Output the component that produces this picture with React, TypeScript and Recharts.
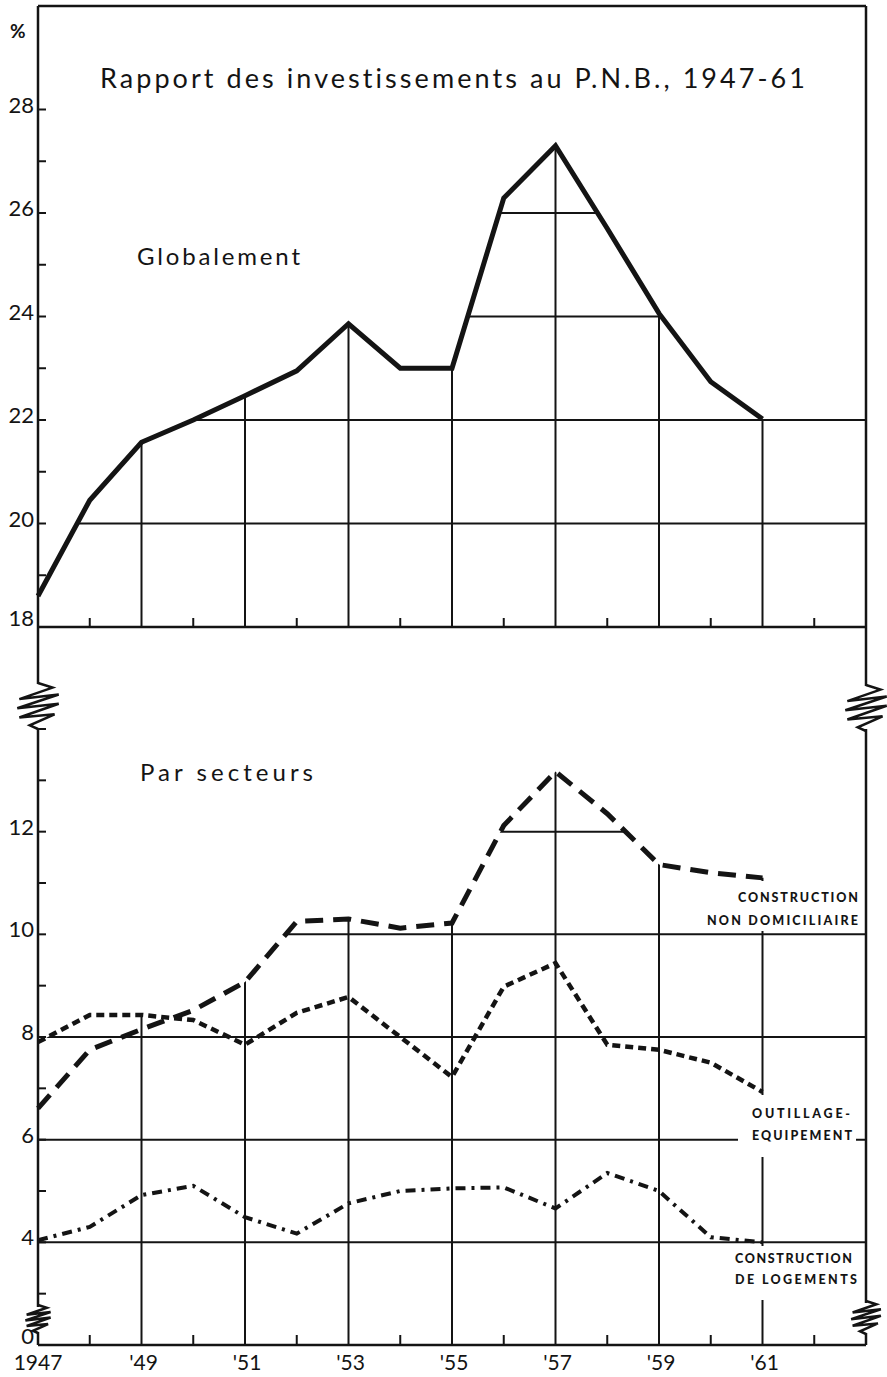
import React from "react";
import {
  ComposedChart,
  Line,
  Area,
  XAxis,
  YAxis,
  ReferenceLine,
} from "recharts";

// ---------------------------------------------------------------------------
// Data (% of GNP)
// ---------------------------------------------------------------------------

const years = [1947, 1948, 1949, 1950, 1951, 1952, 1953, 1954, 1955, 1956, 1957, 1958, 1959, 1960, 1961];
const globalement = [18.6, 20.45, 21.57, 22.0, 22.47, 22.95, 23.86, 23.0, 23.0, 26.29, 27.3, 25.7, 24.06, 22.74, 22.02];
const nonDomiciliaire = [6.61, 7.75, 8.15, 8.52, 9.07, 10.25, 10.3, 10.12, 10.22, 12.12, 13.17, 12.35, 11.36, 11.2, 11.1];
const outillage = [7.9, 8.43, 8.43, 8.33, 7.85, 8.47, 8.78, 8.0, 7.22, 8.98, 9.44, 7.85, 7.75, 7.5, 6.93];
const logements = [4.04, 4.3, 4.92, 5.1, 4.49, 4.17, 4.76, 5.0, 5.05, 5.07, 4.66, 5.35, 5.0, 4.1, 4.0];

// axis runs two empty years past the last point
const extraYears = [1962, 1963];
const labelledYears = [1949, 1951, 1953, 1955, 1957, 1959, 1961];
const minorYears = [1948, 1950, 1952, 1954, 1956, 1958, 1960, 1962];
const allTickYears = [1947, 1948, 1949, 1950, 1951, 1952, 1953, 1954, 1955, 1956, 1957, 1958, 1959, 1960, 1961, 1962];

const topTicks = [18, 19, 20, 21, 22, 23, 24, 25, 26, 27, 28];
const topGrid = [20, 22, 24, 26, 28];
// lower panel is broken: the bottom line (2) is labelled 0
const bottomTicks = [2, 3, 4, 5, 6, 7, 8, 9, 10, 11, 12, 13, 14];
const bottomGrid = [4, 6, 8, 10, 12];

// ---------------------------------------------------------------------------
// Layout
// ---------------------------------------------------------------------------

const INK = "#141414";
const FONT = "Lato, 'Open Sans', sans-serif";
const PLOT_L = 38;
const PLOT_R = 866;
const TOP_H = 640;
const TOP_PLOT_BOTTOM = 627;
const BOT_Y = 700;
const BOT_H = 677;
const BOT_PLOT_BOTTOM = 645; // local to lower chart

const lastIdx = years.length - 1;

const topData = [...years, ...extraYears].map((year, i) => ({
  year,
  value: i <= lastIdx ? globalement[i] : null,
  mask: i <= lastIdx ? globalement[i] : globalement[lastIdx],
}));

const bottomData = [...years, ...extraYears].map((year, i) => ({
  year,
  nonDom: i <= lastIdx ? nonDomiciliaire[i] : null,
  outil: i <= lastIdx ? outillage[i] : null,
  logem: i <= lastIdx ? logements[i] : null,
  mask:
    i <= lastIdx
      ? Math.max(nonDomiciliaire[i], outillage[i], logements[i])
      : nonDomiciliaire[lastIdx],
}));

// ---------------------------------------------------------------------------
// Ticks
// ---------------------------------------------------------------------------

function leftTick(labelFor: (v: number) => string, corner: number) {
  return (props: any) => {
    const { y, payload } = props;
    const v = payload.value;
    const label = labelFor(v);
    return (
      <g>
        {v !== corner && (
          <line x1={PLOT_L} x2={PLOT_L + 8} y1={y} y2={y} stroke={INK} strokeWidth={2} />
        )}
        {label && (
          <text
            x={PLOT_L - 4}
            y={v === corner ? y - 1 : y + 3}
            textAnchor="end"
            fontSize={22}
            fontFamily={FONT}
            fill={INK}
          >
            {label}
          </text>
        )}
      </g>
    );
  };
}

function rightTick(corner: number) {
  return (props: any) => {
    const { y, payload } = props;
    if (payload.value === corner) return <g />;
    return <line x1={PLOT_R - 8} x2={PLOT_R} y1={y} y2={y} stroke={INK} strokeWidth={2} />;
  };
}

const topXTick = (props: any) => {
  const { x } = props;
  return <line x1={x} x2={x} y1={TOP_PLOT_BOTTOM} y2={TOP_PLOT_BOTTOM - 9} stroke={INK} strokeWidth={2} />;
};

const bottomXTick = (props: any) => {
  const { x, payload } = props;
  const year = payload.value as number;
  if (year % 2 === 0) {
    return <line x1={x} x2={x} y1={BOT_PLOT_BOTTOM} y2={BOT_PLOT_BOTTOM - 10} stroke={INK} strokeWidth={2} />;
  }
  const label = year === 1947 ? "1947" : "'" + String(year).slice(2);
  return (
    <text x={x + (year === 1947 ? 0 : 2)} y={BOT_PLOT_BOTTOM + 25} textAnchor="middle" fontSize={21} fontFamily={FONT} fill={INK}>
      {label}
    </text>
  );
};

const topLabel = (v: number) => (v % 2 === 0 ? String(v) : "");
const bottomLabel = (v: number) => (v === 2 ? "0" : v % 2 === 0 && v < 14 ? String(v) : "");

// ---------------------------------------------------------------------------
// Axis break squiggle
// ---------------------------------------------------------------------------

function squiggle(cx: number, top: number, h: number) {
  const pts = [
    [0, 0], [0.35, 0.1], [-0.45, 0.35], [0.5, 0.25], [-0.5, 0.55],
    [0.5, 0.45], [-0.45, 0.75], [0.4, 0.68], [-0.2, 0.92], [0, 1],
  ];
  const w = h * 0.9;
  return pts.map(([dx, dy], i) => `${i === 0 ? "M" : "L"}${cx + dx * w},${top + dy * h}`).join(" ");
}

// ---------------------------------------------------------------------------
// Component
// ---------------------------------------------------------------------------

const gridLine = { stroke: INK, strokeWidth: 2 };
const noLig = { fontVariantLigatures: "none" as const };

export default function App() {
  return (
    <div style={{ position: "relative", width: 887, height: 1377, background: "#fff" }}>
      <style>{"body{margin:0;background:#fff}"}</style>

      {/* upper panel: total */}
      <div style={{ position: "absolute", left: 0, top: 0 }}>
        <ComposedChart width={887} height={TOP_H} data={topData} margin={{ top: 6, right: 20, bottom: 12, left: 0 }}>
          {topGrid.map((v) => (
            <ReferenceLine key={"h" + v} y={v} yAxisId="l" {...gridLine} zIndex={50} />
          ))}
          {labelledYears.map((yr) => (
            <ReferenceLine key={"v" + yr} x={yr} yAxisId="l" {...gridLine} zIndex={50} />
          ))}
          <Area
            yAxisId="l"
            type="linear"
            dataKey="mask"
            baseValue={30}
            fill="#fff"
            fillOpacity={1}
            stroke="none"
            dot={false}
            activeDot={false}
            isAnimationActive={false}
            zIndex={100}
          />
          <Line
            yAxisId="l"
            type="linear"
            dataKey="value"
            stroke={INK}
            strokeWidth={5}
            dot={false}
            activeDot={false}
            isAnimationActive={false}
            zIndex={400}
          />
          <ReferenceLine y={30} yAxisId="l" stroke={INK} strokeWidth={2.5} zIndex={450} />
          <XAxis
            dataKey="year"
            type="number"
            domain={[1947, 1963]}
            ticks={minorYears}
            interval={0}
            height={1}
            tickLine={false}
            tick={topXTick}
            axisLine={{ stroke: INK, strokeWidth: 2.5 }}
          />
          <YAxis
            yAxisId="l"
            type="number"
            domain={[18, 30]}
            ticks={topTicks}
            interval={0}
            width={38}
            tickLine={false}
            tick={leftTick(topLabel, 18)}
            axisLine={{ stroke: INK, strokeWidth: 2.5 }}
          />
          <YAxis
            yAxisId="r"
            orientation="right"
            type="number"
            domain={[18, 30]}
            ticks={topTicks}
            interval={0}
            width={1}
            tickLine={false}
            tick={rightTick(18)}
            axisLine={{ stroke: INK, strokeWidth: 2.5 }}
          />
        </ComposedChart>
      </div>

      {/* lower panel: by sector */}
      <div style={{ position: "absolute", left: 0, top: BOT_Y }}>
        <ComposedChart width={887} height={BOT_H} data={bottomData} margin={{ top: 29, right: 20, bottom: 31, left: 0 }}>
          {bottomGrid.map((v) => (
            <ReferenceLine key={"h" + v} y={v} yAxisId="l" {...gridLine} zIndex={50} />
          ))}
          {labelledYears.map((yr) => (
            <ReferenceLine key={"v" + yr} x={yr} yAxisId="l" {...gridLine} zIndex={50} />
          ))}
          <Area
            yAxisId="l"
            type="linear"
            dataKey="mask"
            baseValue={14}
            fill="#fff"
            fillOpacity={1}
            stroke="none"
            dot={false}
            activeDot={false}
            isAnimationActive={false}
            zIndex={100}
          />
          <Line
            yAxisId="l"
            type="linear"
            dataKey="nonDom"
            stroke={INK}
            strokeWidth={5}
            strokeDasharray="18 10"
            dot={false}
            activeDot={false}
            isAnimationActive={false}
            zIndex={400}
          />
          <Line
            yAxisId="l"
            type="linear"
            dataKey="outil"
            stroke={INK}
            strokeWidth={4.5}
            strokeDasharray="8 5"
            dot={false}
            activeDot={false}
            isAnimationActive={false}
            zIndex={400}
          />
          <Line
            yAxisId="l"
            type="linear"
            dataKey="logem"
            stroke={INK}
            strokeWidth={4}
            strokeDasharray="10 6 3 6"
            dot={false}
            activeDot={false}
            isAnimationActive={false}
            zIndex={400}
          />
          <XAxis
            dataKey="year"
            type="number"
            domain={[1947, 1963]}
            ticks={allTickYears}
            interval={0}
            height={1}
            tickLine={false}
            tick={bottomXTick}
            axisLine={{ stroke: INK, strokeWidth: 2.5 }}
          />
          <YAxis
            yAxisId="l"
            type="number"
            domain={[2, 14]}
            ticks={bottomTicks}
            interval={0}
            width={38}
            tickLine={false}
            tick={leftTick(bottomLabel, 2)}
            axisLine={{ stroke: INK, strokeWidth: 2.5 }}
          />
          <YAxis
            yAxisId="r"
            orientation="right"
            type="number"
            domain={[2, 14]}
            ticks={bottomTicks}
            interval={0}
            width={1}
            tickLine={false}
            tick={rightTick(2)}
            axisLine={{ stroke: INK, strokeWidth: 2.5 }}
          />
        </ComposedChart>
      </div>

      {/* titles, sector labels, axis breaks */}
      <svg
        width={887}
        height={1377}
        style={{ position: "absolute", left: 0, top: 0, pointerEvents: "none" }}
      >
        <g fill={INK} fontFamily={FONT} style={noLig}>
          <text x={10} y={38} fontSize={19} fontWeight={700}>%</text>
          <text x={100} y={88} fontSize={27} textLength={705} lengthAdjust="spacing">
            Rapport des investissements au P.N.B., 1947-61
          </text>
          <text x={137} y={265} fontSize={24} textLength={163} lengthAdjust="spacing">
            Globalement
          </text>
          <text x={140} y={781} fontSize={24} textLength={173} lengthAdjust="spacing">
            Par secteurs
          </text>
        </g>

        <g fill="#fff">
          <rect x={702} y={881} width={154} height={50} />
          <rect x={738} y={1095} width={118} height={62} />
          <rect x={728} y={1246} width={132} height={54} />
        </g>
        <g fill={INK} fontFamily={FONT} fontWeight={900} fontSize={12.5}>
          <text x={738} y={902} textLength={120} lengthAdjust="spacing">CONSTRUCTION</text>
          <text x={707} y={925} textLength={151} lengthAdjust="spacing">NON DOMICILIAIRE</text>
          <text x={752} y={1118} textLength={98} lengthAdjust="spacing">OUTILLAGE-</text>
          <text x={752} y={1140} textLength={100} lengthAdjust="spacing">EQUIPEMENT</text>
          <text x={735} y={1263} textLength={117} lengthAdjust="spacing">CONSTRUCTION</text>
          <text x={735} y={1284} textLength={122} lengthAdjust="spacing">DE LOGEMENTS</text>
        </g>

        <g stroke={INK} strokeWidth={2.5} fill="none">
          <line x1={PLOT_L} x2={PLOT_L} y1={TOP_PLOT_BOTTOM} y2={684} />
          <line x1={PLOT_R} x2={PLOT_R} y1={TOP_PLOT_BOTTOM} y2={686} />
          <path d={squiggle(PLOT_L, 683, 46)} />
          <path d={squiggle(PLOT_R, 685, 46)} />
        </g>
        <g fill="#fff">
          <rect x={PLOT_L - 3} y={1307} width={6} height={25} />
          <rect x={PLOT_R - 3} y={1303} width={6} height={30} />
        </g>
        <g stroke={INK} strokeWidth={2.5} fill="none">
          <path d={squiggle(PLOT_L, 1305, 28)} />
          <path d={squiggle(PLOT_R, 1301, 33)} />
        </g>
      </svg>
    </div>
  );
}
